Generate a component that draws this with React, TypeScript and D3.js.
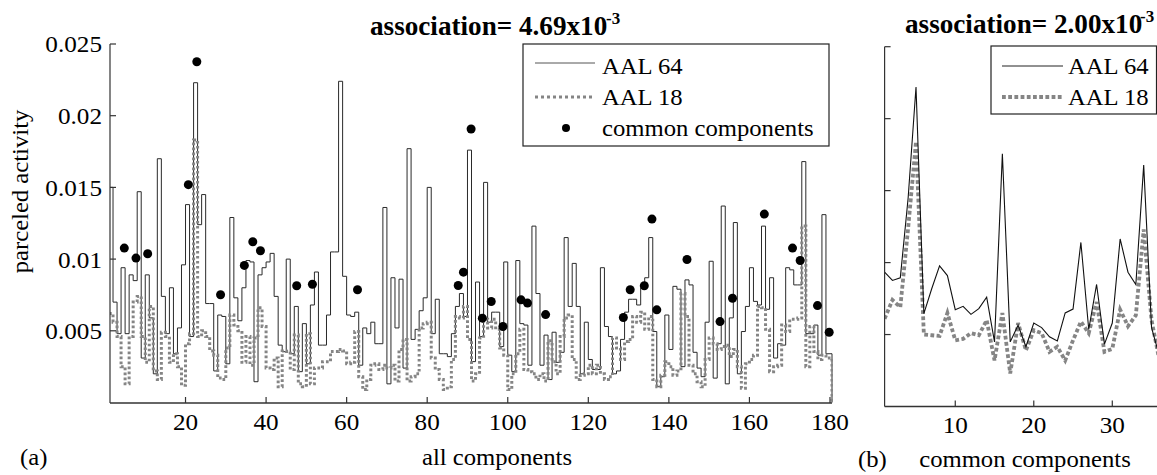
import React from 'react';
import * as d3 from 'd3';

const W = 1157;
const H = 475;
const FONT = '"Liberation Serif", "Times New Roman", serif';

// parceled activity of all 180 components, in units of 10^-3
const aal64All = [
  15.0, 7.0, 4.8, 9.4, 4.8, 8.9, 8.5, 14.7, 3.1, 8.9,
  5.9, 2.0, 17.0, 7.4, 4.8, 8.0, 3.4, 5.2, 9.6, 13.8,
  4.6, 22.3, 12.4, 14.5, 6.9, 6.9, 2.2, 6.1, 6.0, 2.7,
  12.9, 7.3, 5.7, 8.0, 9.9, 9.8, 1.45, 8.9, 9.4, 9.8,
  10.4, 7.4, 4.0, 3.55, 10.0, 3.4, 6.7, 2.15, 5.5, 2.7,
  6.8, 9.1, 4.0, 4.0, 6.1, 10.5, 10.5, 22.4, 8.8, 6.1,
  6.0, 6.3, 2.6, 5.2, 4.8, 5.6, 4.1, 4.1, 13.6, 1.3,
  8.7, 5.2, 8.6, 2.4, 17.7, 4.4, 5.1, 6.4, 7.3, 15.0,
  4.8, 7.2, 3.4, 3.4, 3.2, 4.8, 6.7, 7.6, 6.0, 17.6,
  2.85, 8.4, 4.6, 15.35, 5.6, 6.3, 6.3, 3.9, 9.8, 3.3,
  2.15, 9.9, 5.5, 5.4, 2.6, 12.3, 7.6, 2.6, 4.7, 1.6,
  4.9, 2.8, 3.5, 11.5, 6.7, 9.7, 6.7, 2.0, 5.6, 3.0,
  2.3, 2.3, 9.4, 5.3, 4.6, 2.0, 2.2, 4.4, 6.3, 7.2,
  7.2, 6.8, 8.0, 8.7, 11.5, 4.95, 1.1, 1.8, 6.1, 3.7,
  8.1, 7.9, 2.5, 8.55, 8.2, 3.5, 2.4, 1.8, 5.6, 9.85,
  1.7, 4.1, 13.7, 1.3, 5.9, 12.55, 2.0, 4.95, 6.7, 9.4,
  7.05, 6.8, 12.3, 6.5, 8.7, 3.1, 4.1, 4.0, 9.4, 9.25,
  8.2, 8.2, 16.8, 4.8, 4.8, 5.4, 3.3, 13.1, 3.4, 3.4,
];

const aal18All = [
  6.2, 5.6, 4.6, 2.5, 1.3, 4.6, 7.0, 7.4, 4.6, 2.8,
  6.7, 2.2, 1.6, 4.9, 4.6, 2.8, 3.4, 2.5, 1.2, 4.1,
  4.8, 18.3, 4.6, 5.0, 4.6, 3.6, 3.3, 1.7, 1.6, 3.8,
  6.1, 5.4, 5.0, 2.8, 4.6, 2.6, 4.5, 6.6, 5.3, 2.4,
  2.3, 3.1, 1.1, 3.6, 3.55, 2.3, 4.7, 1.3, 1.1, 4.8,
  1.3, 2.4, 2.4, 2.85, 2.85, 3.55, 3.55, 3.7, 3.6, 2.7,
  2.8, 4.95, 1.8, 0.9, 1.6, 2.6, 2.7, 2.3, 2.6, 2.4,
  2.6, 1.5, 3.7, 4.4, 1.5, 1.8, 2.0, 5.2, 5.5, 5.6,
  3.1, 2.3, 1.6, 0.9, 1.1, 3.0, 6.0, 5.9, 6.7, 4.4,
  1.5, 2.0, 4.5, 5.8, 5.2, 5.8, 5.1, 3.8, 3.3, 0.9,
  2.0, 3.4, 5.1, 2.3, 2.15, 2.0, 1.6, 2.0, 1.5, 4.3,
  2.85, 2.0, 4.6, 5.9, 6.1, 3.0, 1.6, 1.9, 2.0, 2.6,
  2.0, 2.6, 2.0, 1.6, 1.8, 4.5, 3.8, 3.0, 4.25, 4.4,
  6.0, 5.6, 6.3, 5.1, 6.0, 1.6, 1.1, 1.9, 2.85, 2.5,
  1.9, 2.2, 7.6, 6.0, 2.6, 2.0, 1.45, 1.1, 3.0, 4.5,
  4.1, 3.7, 3.9, 4.0, 3.2, 3.7, 2.5, 1.0, 2.7, 3.0,
  3.3, 6.7, 6.6, 5.1, 2.15, 2.5, 2.6, 5.4, 4.95, 5.8,
  5.8, 5.9, 12.3, 2.5, 5.3, 3.55, 3.0, 3.3, 3.1, 3.1,
];

// common component markers (position, value x10^-3)
const commonX = [
  4.8, 7.7, 10.6, 20.7, 22.8, 28.7, 34.6, 36.7, 38.6, 47.6, 51.5, 62.7,
  87.7, 89.0, 90.9, 93.7, 95.9, 98.8, 103.3, 104.9, 109.4, 128.7, 130.4,
  133.9, 135.8, 137.0, 144.5, 152.7, 155.8, 163.7, 170.7, 172.6, 176.9, 179.8,
];
const commonY = [
  10.77, 10.07, 10.37, 15.19, 23.76, 7.51, 9.56, 11.21, 10.58, 8.14, 8.25, 7.86,
  8.16, 9.09, 19.07, 5.88, 7.04, 5.3, 7.16, 6.93, 6.13, 5.93, 7.86,
  8.14, 12.79, 6.46, 9.97, 5.64, 7.27, 13.14, 10.77, 9.9, 6.76, 4.9,
];

// panel (b): the common components only
const aal64Common = [
  9.33, 8.76, 8.94, 14.5, 22.2, 6.45, 8.18, 9.77, 9.1, 6.73,
  6.96, 6.4, 6.8, 7.6, 4.49, 17.56, 4.49, 5.65, 4.15, 5.8,
  5.48, 4.84, 4.56, 6.5, 6.77, 11.4, 5.35, 8.48, 4.33, 5.8,
  11.64, 9.33, 8.48, 16.77, 5.48, 3.5,
];
const aal18Common = [
  6.1, 7.4, 6.9, 12.4, 18.4, 5.0, 4.95, 4.9, 6.5, 4.6,
  4.7, 5.1, 4.95, 6.0, 3.2, 6.5, 2.3, 5.8, 3.9, 5.3,
  5.1, 3.8, 4.15, 3.2, 4.6, 5.9, 5.1, 7.26, 3.8, 4.0,
  6.73, 5.58, 6.34, 12.3, 6.0, 3.2,
];

const yTicks = [5, 10, 15, 20, 25];
const yTickLabels = ['0.005', '0.01', '0.015', '0.02', '0.025'];
const xTicksA = [20, 40, 60, 80, 100, 120, 140, 160, 180];
const xTicksB = [10, 20, 30];

const AXIS = '#333';
const SOLID = '#2a2a2a';
const DOTTED = '#858585';

type TProps = {
  x: number; y: number; size?: number; anchor?: string; bold?: boolean;
  rotate?: number; sx?: number; children: React.ReactNode;
};
const T = ({ x, y, size = 23.5, anchor = 'start', bold = false, rotate = 0, sx = 1.05, children }: TProps) => (
  <text
    transform={`translate(${x},${y}) rotate(${rotate}) scale(${sx},1)`}
    fontSize={size}
    textAnchor={anchor as any}
    fontWeight={bold ? 'bold' : 'normal'}
    fontFamily={FONT}
    fill="#000"
  >
    {children}
  </text>
);

const App = () => {
  // panel (a)
  const xA = d3.scaleLinear().domain([1.25, 180.5]).range([110, 832]);
  const yA = d3.scaleLinear().domain([0, 25]).range([402.5, 44]);
  // panel (b)
  const xB = d3.scaleLinear().domain([1, 36]).range([884.6, 1159.4]);
  const yB = d3.scaleLinear().domain([0, 25]).range([406.5, 46.7]);

  const stairs = d3
    .line<[number, number]>()
    .x((d) => xA(d[0]))
    .y((d) => yA(d[1]))
    .curve(d3.curveStepAfter);
  const endX = xA.domain()[1];
  const pts64 = aal64All.map((v, i) => [i + 1, v] as [number, number]).concat([[endX, 0]]);
  const pts18 = aal18All.map((v, i) => [i + 1, v] as [number, number]).concat([[endX, 0]]);

  const lineB = d3
    .line<number>()
    .x((_, i) => xB(i + 1))
    .y((d) => yB(d));

  const [ax0, ax1] = xA.range();
  const aBottom = yA(0) + 0.5;
  const [bx0] = xB.range();
  const bBottom = yB(0);

  return (
    <svg width={W} height={H} style={{ position: 'absolute', left: 0, top: 0, background: '#fff' }}>
      <defs>
        <clipPath id="clipA">
          <rect x={ax0} y={0} width={ax1 - ax0 + 1} height={aBottom} />
        </clipPath>
        <clipPath id="clipB">
          <rect x={bx0} y={0} width={W - bx0} height={bBottom} />
        </clipPath>
      </defs>

      {/* ---------- panel (a) ---------- */}
      <g clipPath="url(#clipA)">
        <path d={stairs(pts64) || ''} fill="none" stroke={SOLID} strokeWidth={1} />
        <path d={stairs(pts18) || ''} fill="none" stroke={DOTTED} strokeWidth={3} strokeDasharray="2.7 2.3" />
      </g>
      {commonX.map((cx, i) => (
        <circle key={i} cx={xA(cx)} cy={yA(commonY[i])} r={4.5} fill="#000" />
      ))}

      {/* axes a */}
      <line x1={ax0} x2={ax0} y1={yA(25)} y2={aBottom} stroke={AXIS} strokeWidth={1.2} />
      <line x1={ax0} x2={ax1} y1={aBottom} y2={aBottom} stroke={AXIS} strokeWidth={1.4} />
      {yTicks.map((t, i) => (
        <g key={t}>
          <line x1={ax0} x2={ax0 + 6} y1={yA(t)} y2={yA(t)} stroke={AXIS} strokeWidth={1.2} />
          <T x={ax0 - 8} y={yA(t) + 8.4} anchor="end" size={24}>{yTickLabels[i]}</T>
        </g>
      ))}
      {xTicksA.map((t) => (
        <g key={t}>
          <line x1={xA(t)} x2={xA(t)} y1={aBottom} y2={aBottom - 6} stroke={AXIS} strokeWidth={1.2} />
          <T x={xA(t)} y={430} anchor="middle" size={24}>{t}</T>
        </g>
      ))}
      <T x={28} y={191.5} anchor="middle" rotate={-90}>parceled activity</T>
      <T x={497} y={465} anchor="middle">all components</T>
      <T x={20} y={465}>(a)</T>
      <T x={370} y={35} size={28} bold sx={0.97}>
        association= 4.69x10
      </T>
      <T x={606} y={24} size={17} bold sx={1}>-3</T>

      {/* legend a */}
      <rect x={523} y={44} width={306} height={102} fill="#fff" stroke="#222" strokeWidth={1.2} />
      <line x1={535} x2={595} y1={63} y2={63} stroke="#555" strokeWidth={1} />
      <line x1={535} x2={595} y1={97} y2={97} stroke={DOTTED} strokeWidth={3} strokeDasharray="3 3" />
      <circle cx={566} cy={128} r={4} fill="#000" />
      <T x={602} y={74}>AAL 64</T>
      <T x={602} y={105}>AAL 18</T>
      <T x={602} y={136}>common components</T>

      {/* ---------- panel (b) ---------- */}
      <g clipPath="url(#clipB)">
        <path d={lineB(aal18Common) || ''} fill="none" stroke={DOTTED} strokeWidth={3.8} strokeDasharray="3.8 2.4" />
        <path d={lineB(aal64Common) || ''} fill="none" stroke="#111" strokeWidth={1.1} />
      </g>
      <line x1={bx0} x2={bx0} y1={yB(25)} y2={bBottom} stroke={AXIS} strokeWidth={1.2} />
      <line x1={bx0} x2={W} y1={bBottom} y2={bBottom} stroke={AXIS} strokeWidth={1.4} />
      {yTicks.map((t) => (
        <line key={t} x1={bx0} x2={bx0 + 6} y1={yB(t)} y2={yB(t)} stroke={AXIS} strokeWidth={1.2} />
      ))}
      {xTicksB.map((t) => (
        <g key={t}>
          <line x1={xB(t)} x2={xB(t)} y1={bBottom} y2={bBottom - 6} stroke={AXIS} strokeWidth={1.2} />
          <T x={xB(t)} y={433} anchor="middle" size={24}>{t}</T>
        </g>
      ))}
      <T x={858} y={467}>(b)</T>
      <T x={1025} y={467} anchor="middle">common components</T>
      <T x={905} y={33} size={28} bold sx={0.97}>
        association= 2.00x10
      </T>
      <T x={1140} y={22} size={17} bold sx={1}>-3</T>

      {/* legend b */}
      <rect x={991} y={46} width={165.5} height={68} fill="#fff" stroke="#222" strokeWidth={1.2} />
      <line x1={1002} x2={1063} y1={66} y2={66} stroke="#222" strokeWidth={1} />
      <line x1={1002} x2={1063} y1={97} y2={97} stroke={DOTTED} strokeWidth={3.8} strokeDasharray="3.8 2.4" />
      <T x={1068} y={74}>AAL 64</T>
      <T x={1068} y={105}>AAL 18</T>
    </svg>
  );
};

export default App;
